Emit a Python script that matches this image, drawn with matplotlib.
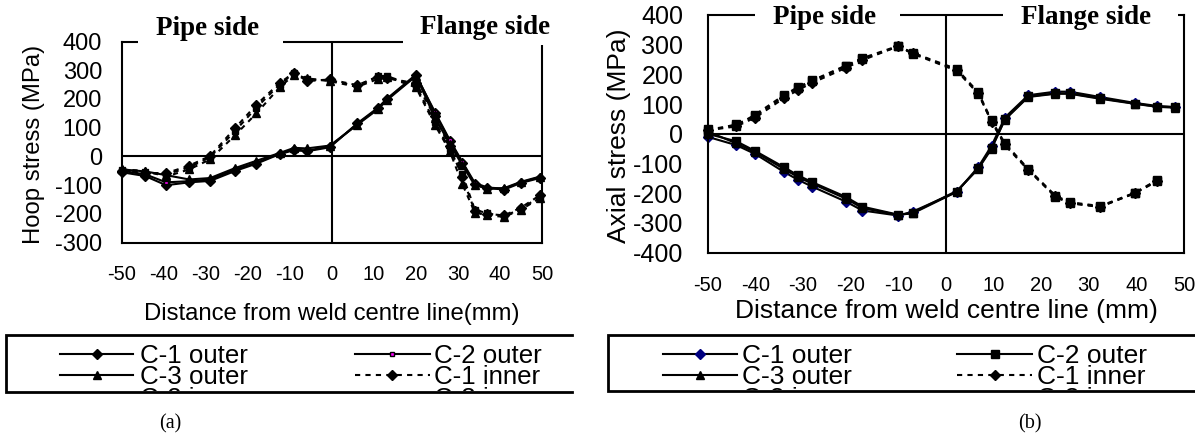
import matplotlib
matplotlib.use("Agg")
import matplotlib.pyplot as plt
from matplotlib.patches import Rectangle
from matplotlib.transforms import Bbox

plt.rcParams['font.family'] = ['Liberation Sans', 'DejaVu Sans']
plt.rcParams['axes.unicode_minus'] = False

# ---------------- data ----------------
series_names = ["C-1 outer", "C-2 outer", "C-3 outer", "C-1 inner", "C-2 inner", "C-3 inner"]

# (a) hoop stress
hoop_x = [-50, -44.5, -39.5, -34, -29, -23, -18, -12.5, -9, -6, -0.5, 6, 11, 13, 20,
          24.5, 28, 31, 34, 37, 41, 45, 49.5]
hoop_c1_outer = [-55, -68, -100, -90, -85, -50, -25, 8, 22, 18, 32, 115, 170, 200, 285,
                 150, 55, -22, -95, -110, -115, -92, -75]
hoop_c2_outer = [-50, -62, -90, -86, -80, -45, -22, 10, 25, 20, 35, 112, 168, 198, 282,
                 155, 58, -18, -92, -108, -112, -90, -72]
hoop_c3_outer = [-45, -52, -65, -80, -75, -40, -15, 12, 30, 28, 38, 110, 165, 195, 280,
                 135, 45, -30, -100, -112, -110, -88, -70]
hoop_c1_inner = [-50, -58, -58, -32, 2, 100, 180, 255, 292, 262, 268, 248, 278, 272, 255,
                 140, 35, -70, -190, -200, -205, -178, -135]
hoop_c2_inner = [-48, -55, -62, -38, -2, 90, 170, 250, 290, 268, 265, 245, 280, 280, 245,
                 120, 25, -60, -185, -198, -208, -182, -140]
hoop_c3_inner = [-45, -50, -70, -45, -10, 75, 150, 240, 285, 272, 262, 242, 270, 278, 240,
                 110, 20, -95, -195, -205, -210, -185, -145]

# (b) axial stress
axial_x_outer = [-50, -44, -40, -34, -31, -28, -21, -17.5, -10, -7, 2.3, 6.8, 9.6, 12.4,
                 17.3, 23, 26, 32.4, 39.7, 44.3, 48.1]
axial_c1_outer = [-10, -38, -68, -128, -155, -178, -228, -258, -275, -262, -195, -112, -40,
                  55, 130, 142, 142, 124, 104, 94, 90]
axial_c2_outer = [0, -25, -58, -112, -140, -163, -212, -245, -272, -268, -195, -115, -48,
                  50, 126, 136, 136, 120, 102, 92, 90]
axial_c3_outer = [8, -32, -62, -118, -146, -168, -218, -250, -273, -266, -192, -118, -50,
                  48, 124, 135, 135, 118, 101, 91, 88]
axial_x_inner = [-50, -44, -40, -34, -31, -28, -21, -17.5, -10, -7, 2.3, 6.8, 9.6, 12.4,
                 17.3, 23, 26, 32.4, 39.7, 44.3]
axial_c1_inner = [12, 25, 55, 120, 148, 172, 222, 248, 295, 272, 215, 137, 40, -35, -120,
                  -210, -232, -245, -200, -160]
axial_c2_inner = [10, 32, 60, 126, 155, 178, 228, 252, 294, 270, 212, 135, 42, -38, -122,
                  -212, -234, -246, -199, -158]
axial_c3_inner = [15, 28, 65, 130, 158, 180, 230, 255, 296, 273, 218, 140, 45, -32, -118,
                  -208, -230, -243, -198, -156]

x_ticks = list(range(-50, 51, 10))
hoop_yticks = list(range(-300, 401, 100))
axial_yticks = list(range(-400, 401, 100))

# ---------------- styles ----------------
DASH = (0, (2.5, 2.5))
left_styles = [
    dict(color='k', lw=1.5, ls='-', marker='D', ms=5, mfc='k', mec='k'),
    dict(color='k', lw=1.5, ls='-', marker='s', ms=3.5, mfc='#ff00ff', mec='k', mew=1),
    dict(color='k', lw=1.5, ls='-', marker='^', ms=6, mfc='k', mec='k'),
    dict(color='k', lw=1.5, ls=DASH, marker='D', ms=5, mfc='k', mec='k'),
    dict(color='k', lw=1.5, ls=DASH, marker='s', ms=5, mfc='k', mec='k'),
    dict(color='k', lw=1.5, ls=DASH, marker='^', ms=6, mfc='k', mec='k'),
]
right_styles = [
    dict(color='k', lw=1.5, ls='-', marker='D', ms=5, mfc='#000080', mec='#000080'),
    dict(color='k', lw=1.5, ls='-', marker='s', ms=6, mfc='k', mec='k'),
    dict(color='k', lw=1.5, ls='-', marker='^', ms=6, mfc='k', mec='k'),
    dict(color='k', lw=1.5, ls=DASH, marker='D', ms=5, mfc='k', mec='k'),
    dict(color='k', lw=1.5, ls=DASH, marker='s', ms=6, mfc='k', mec='k'),
    dict(color='k', lw=1.5, ls=DASH, marker='s', ms=6, mfc='k', mec='k'),
]

W, H, DPI = 1195, 434, 100
fig = plt.figure(figsize=(W / DPI, H / DPI), dpi=DPI)


def px_axes(x0, top, x1, bottom, **kw):
    return fig.add_axes([x0 / W, 1 - bottom / H, (x1 - x0) / W, (bottom - top) / H], **kw)


def setup(ax, yticks, yfs, xfs, ypad, xpad):
    ax.set_xlim(-50, 50)
    ax.set_ylim(yticks[0], yticks[-1])
    ax.set_xticks(x_ticks)
    ax.set_yticks(yticks)
    ax.tick_params(axis='both', length=0)
    ax.tick_params(axis='y', labelsize=yfs, pad=ypad)
    ax.tick_params(axis='x', labelsize=xfs, pad=xpad)
    for sp in ax.spines.values():
        sp.set_linewidth(1.5)
    ax.axhline(0, color='k', lw=1.5, zorder=1.5)
    ax.axvline(0, color='k', lw=1.5, zorder=1.5)


axL = px_axes(122, 41.5, 542, 242.7)
setup(axL, hoop_yticks, 17, 14.5, 14.4, 16.3)
hoop_series = [hoop_c1_outer, hoop_c2_outer, hoop_c3_outer,
               hoop_c1_inner, hoop_c2_inner, hoop_c3_inner]
for ys, st in zip(hoop_series, left_styles):
    axL.plot(hoop_x, ys, clip_on=False, **st)

axR = px_axes(707.7, 15, 1184, 252.7)
setup(axR, axial_yticks, 18, 14.5, 17.6, 16.7)
axial_series = [(axial_x_outer, axial_c1_outer), (axial_x_outer, axial_c2_outer),
                (axial_x_outer, axial_c3_outer), (axial_x_inner, axial_c1_inner),
                (axial_x_inner, axial_c2_inner), (axial_x_inner, axial_c3_inner)]
for (xs, ys), st in zip(axial_series, right_styles):
    axR.plot(xs, ys, clip_on=False, **st)

# ---------------- overlay (pixel coordinates) ----------------
ov = fig.add_axes([0, 0, 1, 1], zorder=10)
ov.set_xlim(0, W)
ov.set_ylim(H, 0)
ov.axis('off')

# white boxes behind the side titles (hide the frame segments)
for (x0, x1, yb) in [(138, 283, 45), (403, 560, 45), (755, 900, 18.5), (1003, 1178, 18.5)]:
    ov.add_patch(Rectangle((x0, -2), x1 - x0, yb + 2, facecolor='white', edgecolor='none'))

serif = ['Liberation Serif', 'DejaVu Serif']
for (xc, yb, s) in [(208, 35, "Pipe side"), (485, 33.5, "Flange side"),
                    (825, 23.5, "Pipe side"), (1086, 24, "Flange side")]:
    ov.text(xc, yb, s, ha='center', va='baseline', fontsize=19.5, fontweight='bold',
            family=serif)

# axis titles
ov.text(332, 320, "Distance from weld centre line(mm)", ha='center', va='baseline',
        fontsize=17.2)
ov.text(946, 318, "Distance from weld centre line (mm)", ha='center', va='baseline',
        fontsize=19)
ov.text(34, 144.5, "Hoop stress (MPa)", rotation=90, ha='center', va='center', fontsize=17.2)
ov.text(619, 136, "Axial stress (MPa)", rotation=90, ha='center', va='center', fontsize=19)

# panel captions
ov.text(170, 424, "(a)", ha='center', va='center', fontsize=14.5, family=serif)
ov.text(1030, 424, "(b)", ha='center', va='center', fontsize=14.5, family=serif)


# ---------------- legends (drawn manually, clipped like the original) ----------------
def draw_legend(box, cols, styles, fs):
    bx0, bx1, by0, by1 = box
    ov.plot([bx1, bx0, bx0, bx1], [by0, by0, by1, by1], color='k', lw=2,
            solid_joinstyle='miter')
    clip = Bbox.from_extents(bx0, H - by1 + 1, bx1, H - by0)
    rows = [353.5, 375, 396.5]
    order = [[0, 1], [2, 3], [4, 5]]
    for r, yrow in enumerate(rows):
        for c in range(2):
            idx = order[r][c]
            hx0, hx1, mx, tx = cols[c]
            st = dict(styles[idx])
            if r < 2:
                ls = st.pop('ls')
                mk = dict(marker=st.pop('marker'), ms=st.pop('ms'), mfc=st.pop('mfc'),
                          mec=st.pop('mec'))
                mew = st.pop('mew', None)
                ov.plot([hx0, hx1], [yrow, yrow], ls=ls, color='k', lw=1.5)
                if mew is not None:
                    mk['mew'] = mew
                ov.plot([mx], [yrow], ls='none', **mk)
            t = ov.text(tx, yrow + 0.358 * fs * DPI / 72, series_names[idx], ha='left',
                        va='baseline', fontsize=fs)
            t.set_clip_box(clip)
            t.set_clip_on(True)


draw_legend((5.7, 571.7, 335, 391.7),
            [(60, 133, 97, 140), (355, 430, 392, 434)], left_styles, 18.6)
draw_legend((608, 1196, 335, 391),
            [(663, 737, 700, 742), (957, 1032, 995, 1037)], right_styles, 19)

fig.savefig("out.png", dpi=DPI)
